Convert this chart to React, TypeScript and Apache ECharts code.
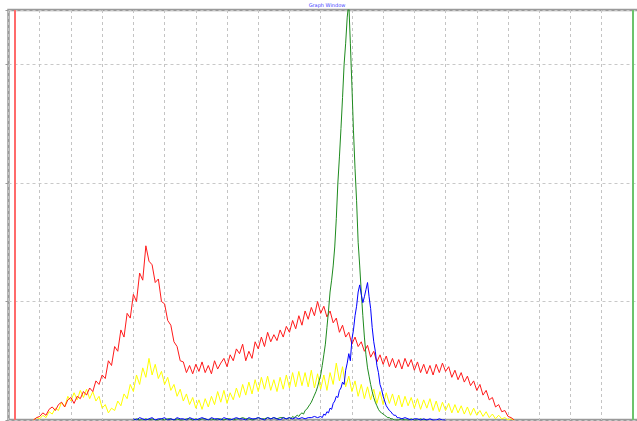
import { useEffect, useRef } from "react";
import * as echarts from "echarts";

const TITLE = "Graph Window";
const X_MAX = 202.6;
const Y_MAX = 346;
const X_STEP = 10;
const Y_STEP = 100;

const LEFT_MARKER = 1.9;
const RIGHT_MARKER = 200;

// red series, x = 8..162 step 1
const RED_START = 8;
const redValues = [
  0, 2, 3, 6, 4, 9, 11, 8, 13, 15, 11, 17, 19, 14, 20, 18, 24, 21, 27, 24,
  33, 30, 38, 35, 50, 46, 62, 58, 76, 70, 90, 86, 106, 100, 124, 118, 147, 134, 131, 116,
  119, 100, 98, 84, 80, 66, 62, 50, 49, 40, 46, 39, 47, 41, 49, 40, 46, 39, 50, 43,
  48, 52, 45, 55, 50, 60, 56, 64, 50, 58, 52, 66, 60, 70, 62, 74, 66, 72, 67, 76,
  70, 79, 74, 84, 77, 88, 80, 92, 85, 95, 88, 100, 90, 96, 87, 92, 82, 86, 74, 80,
  70, 74, 64, 70, 62, 66, 58, 63, 53, 58, 49, 55, 47, 54, 45, 52, 44, 51, 43, 52,
  45, 51, 42, 49, 40, 47, 39, 46, 38, 47, 40, 48, 41, 45, 36, 42, 34, 40, 32, 37,
  29, 33, 25, 30, 21, 25, 17, 19, 11, 13, 7, 8, 3, 2, 0,
];

// yellow series, x = 8..162 step 1
const YELLOW_START = 8;
const yellowValues = [
  0, 2, 1, 4, 2, 7, 5, 10, 8, 15, 11, 20, 16, 23, 17, 25, 19, 26, 18, 24,
  16, 20, 10, 13, 6, 10, 8, 16, 12, 22, 18, 30, 24, 38, 30, 44, 36, 52, 38, 47,
  35, 41, 30, 36, 25, 30, 20, 26, 16, 22, 13, 19, 10, 17, 9, 18, 11, 20, 13, 24,
  15, 25, 14, 23, 17, 27, 19, 30, 21, 32, 22, 34, 24, 36, 26, 37, 25, 34, 24, 36,
  26, 38, 27, 40, 28, 41, 29, 40, 28, 42, 27, 39, 26, 38, 25, 40, 30, 48, 33, 45,
  28, 37, 24, 33, 20, 30, 18, 28, 17, 26, 14, 24, 13, 23, 14, 22, 12, 21, 11, 20,
  12, 19, 10, 18, 9, 17, 10, 18, 8, 16, 7, 15, 8, 14, 6, 13, 6, 12, 5, 11,
  4, 10, 4, 8, 3, 7, 2, 5, 1, 4, 1, 2, 0, 1, 0,
];

// green series: baseline x = 40..89 step 1, peak x = 90..124 step 0.5, tail x = 125..134 step 1
const GREEN_BASE_START = 40;
const greenBase = [
  0, 1, 0, 0, 1, 0, 1, 0, 0, 1, 0, 1, 1, 0, 1, 0, 0, 1, 1, 0,
  1, 0, 1, 1, 0, 1, 0, 1, 1, 0, 1, 1, 0, 1, 1, 2, 1, 1, 0, 1,
  2, 1, 1, 2, 1, 2, 1, 2, 2, 1,
];
const GREEN_PEAK_START = 90;
const greenPeak = [
  2, 1, 3, 2, 3, 4, 3, 5, 6, 5, 8, 9, 11, 13, 15, 18, 21, 24, 28, 33,
  38, 46, 55, 64, 78, 92, 108, 118, 130, 146, 170, 200, 222, 246, 272, 300, 318, 340, 352, 318,
  282, 244, 212, 185, 150, 130, 108, 88, 70, 55, 44, 37, 30, 24, 19, 15, 12, 9, 7, 6,
  5, 4, 3, 2, 2, 1, 1, 0, 0,
];
const GREEN_TAIL_START = 125;
const greenTail = [0, 1, 0, 0, 1, 0, 0, 1, 0, 0];

// blue series: baseline x = 40..99 step 1, peak x = 100..125 step 0.5, tail x = 126..140 step 1
const BLUE_BASE_START = 40;
const blueBase = [
  1, 0, 2, 1, 0, 1, 2, 0, 1, 1, 2, 0, 1, 0, 2, 1, 1, 0, 2, 1,
  0, 1, 2, 1, 0, 2, 1, 1, 0, 2, 1, 0, 1, 2, 1, 1, 0, 2, 1, 1,
  2, 1, 0, 2, 1, 2, 1, 0, 2, 1, 2, 1, 2, 1, 2, 1, 2, 2, 3, 2,
];
const BLUE_PEAK_START = 100;
const bluePeak = [
  3, 2, 5, 4, 7, 6, 10, 9, 14, 16, 20, 19, 25, 27, 32, 30, 42, 48, 56, 50,
  68, 76, 88, 96, 108, 114, 106, 99, 104, 110, 116, 104, 94, 78, 66, 58, 46, 40, 30, 26,
  20, 16, 12, 10, 8, 7, 5, 4, 4, 2, 2,
];
const BLUE_TAIL_START = 126;
const blueTail = [1, 2, 1, 0, 1, 1, 0, 1, 0, 1, 0, 0, 1, 0, 0];

function seq(start: number, step: number, values: number[]) {
  return values.map((v, i) => [start + i * step, v]);
}

export default function App() {
  const ref = useRef<HTMLDivElement>(null);
  useEffect(() => {
    if (!ref.current) return;
    const chart = echarts.init(ref.current, undefined, { renderer: "svg" });
    const lineBase = {
      type: "line" as const,
      showSymbol: false,
      symbol: "none",
      smooth: false,
      clip: true,
    };
    chart.setOption({
      animation: false,
      backgroundColor: "#ffffff",
      grid: {
        left: 8.5,
        top: 10,
        right: 4,
        bottom: 1,
        show: true,
        borderColor: "#9a9a9a",
        borderWidth: 2.5,
        backgroundColor: "#ffffff",
      },
      graphic: [
        {
          type: "text",
          x: 327,
          y: 5,
          style: {
            text: TITLE,
            fontSize: 5,
            fill: "#4040ff",
            align: "center",
            verticalAlign: "middle",
            fontFamily: "DejaVu Sans",
          },
        },
      ],
      xAxis: {
        type: "value",
        min: 0,
        max: X_MAX,
        interval: X_STEP,
        axisLine: { show: false },
        axisTick: { show: false },
        axisLabel: { show: false },
        splitLine: {
          show: true,
          lineStyle: { color: "#c4c4c4", type: [3, 3], width: 1 },
        },
      },
      yAxis: {
        type: "value",
        min: 0,
        max: Y_MAX,
        interval: Y_STEP,
        axisLine: { show: false },
        axisTick: { show: true, length: 3, lineStyle: { color: "#999" } },
        axisLabel: { show: false },
        splitLine: {
          show: true,
          lineStyle: { color: "#c8c8c8", type: [3, 3], width: 1 },
        },
      },
      series: [
        {
          ...lineBase,
          name: "yellow",
          data: seq(YELLOW_START, 1, yellowValues),
          lineStyle: { color: "#ffff00", width: 1 },
          z: 2,
        },
        {
          ...lineBase,
          name: "red",
          data: seq(RED_START, 1, redValues),
          lineStyle: { color: "#ff1a1a", width: 1 },
          z: 3,
          markLine: {
            silent: true,
            symbol: "none",
            label: { show: false },
            data: [
              { xAxis: LEFT_MARKER, lineStyle: { color: "#ff6b6b", width: 2, type: "solid" } },
              { xAxis: RIGHT_MARKER, lineStyle: { color: "#6cc46c", width: 2, type: "solid" } },
            ],
          },
        },
        {
          ...lineBase,
          name: "green",
          data: [
            ...seq(GREEN_BASE_START, 1, greenBase),
            ...seq(GREEN_PEAK_START, 0.5, greenPeak),
            ...seq(GREEN_TAIL_START, 1, greenTail),
          ],
          lineStyle: { color: "#1e8a1e", width: 1 },
          z: 4,
        },
        {
          ...lineBase,
          name: "blue",
          data: [
            ...seq(BLUE_BASE_START, 1, blueBase),
            ...seq(BLUE_PEAK_START, 0.5, bluePeak),
            ...seq(BLUE_TAIL_START, 1, blueTail),
          ],
          lineStyle: { color: "#0000ff", width: 1 },
          z: 5,
        },
      ],
    });
    return () => chart.dispose();
  }, []);
  return (
    <div
      ref={ref}
      style={{ position: "fixed", left: 0, top: 0, width: 645, height: 421 }}
    />
  );
}
